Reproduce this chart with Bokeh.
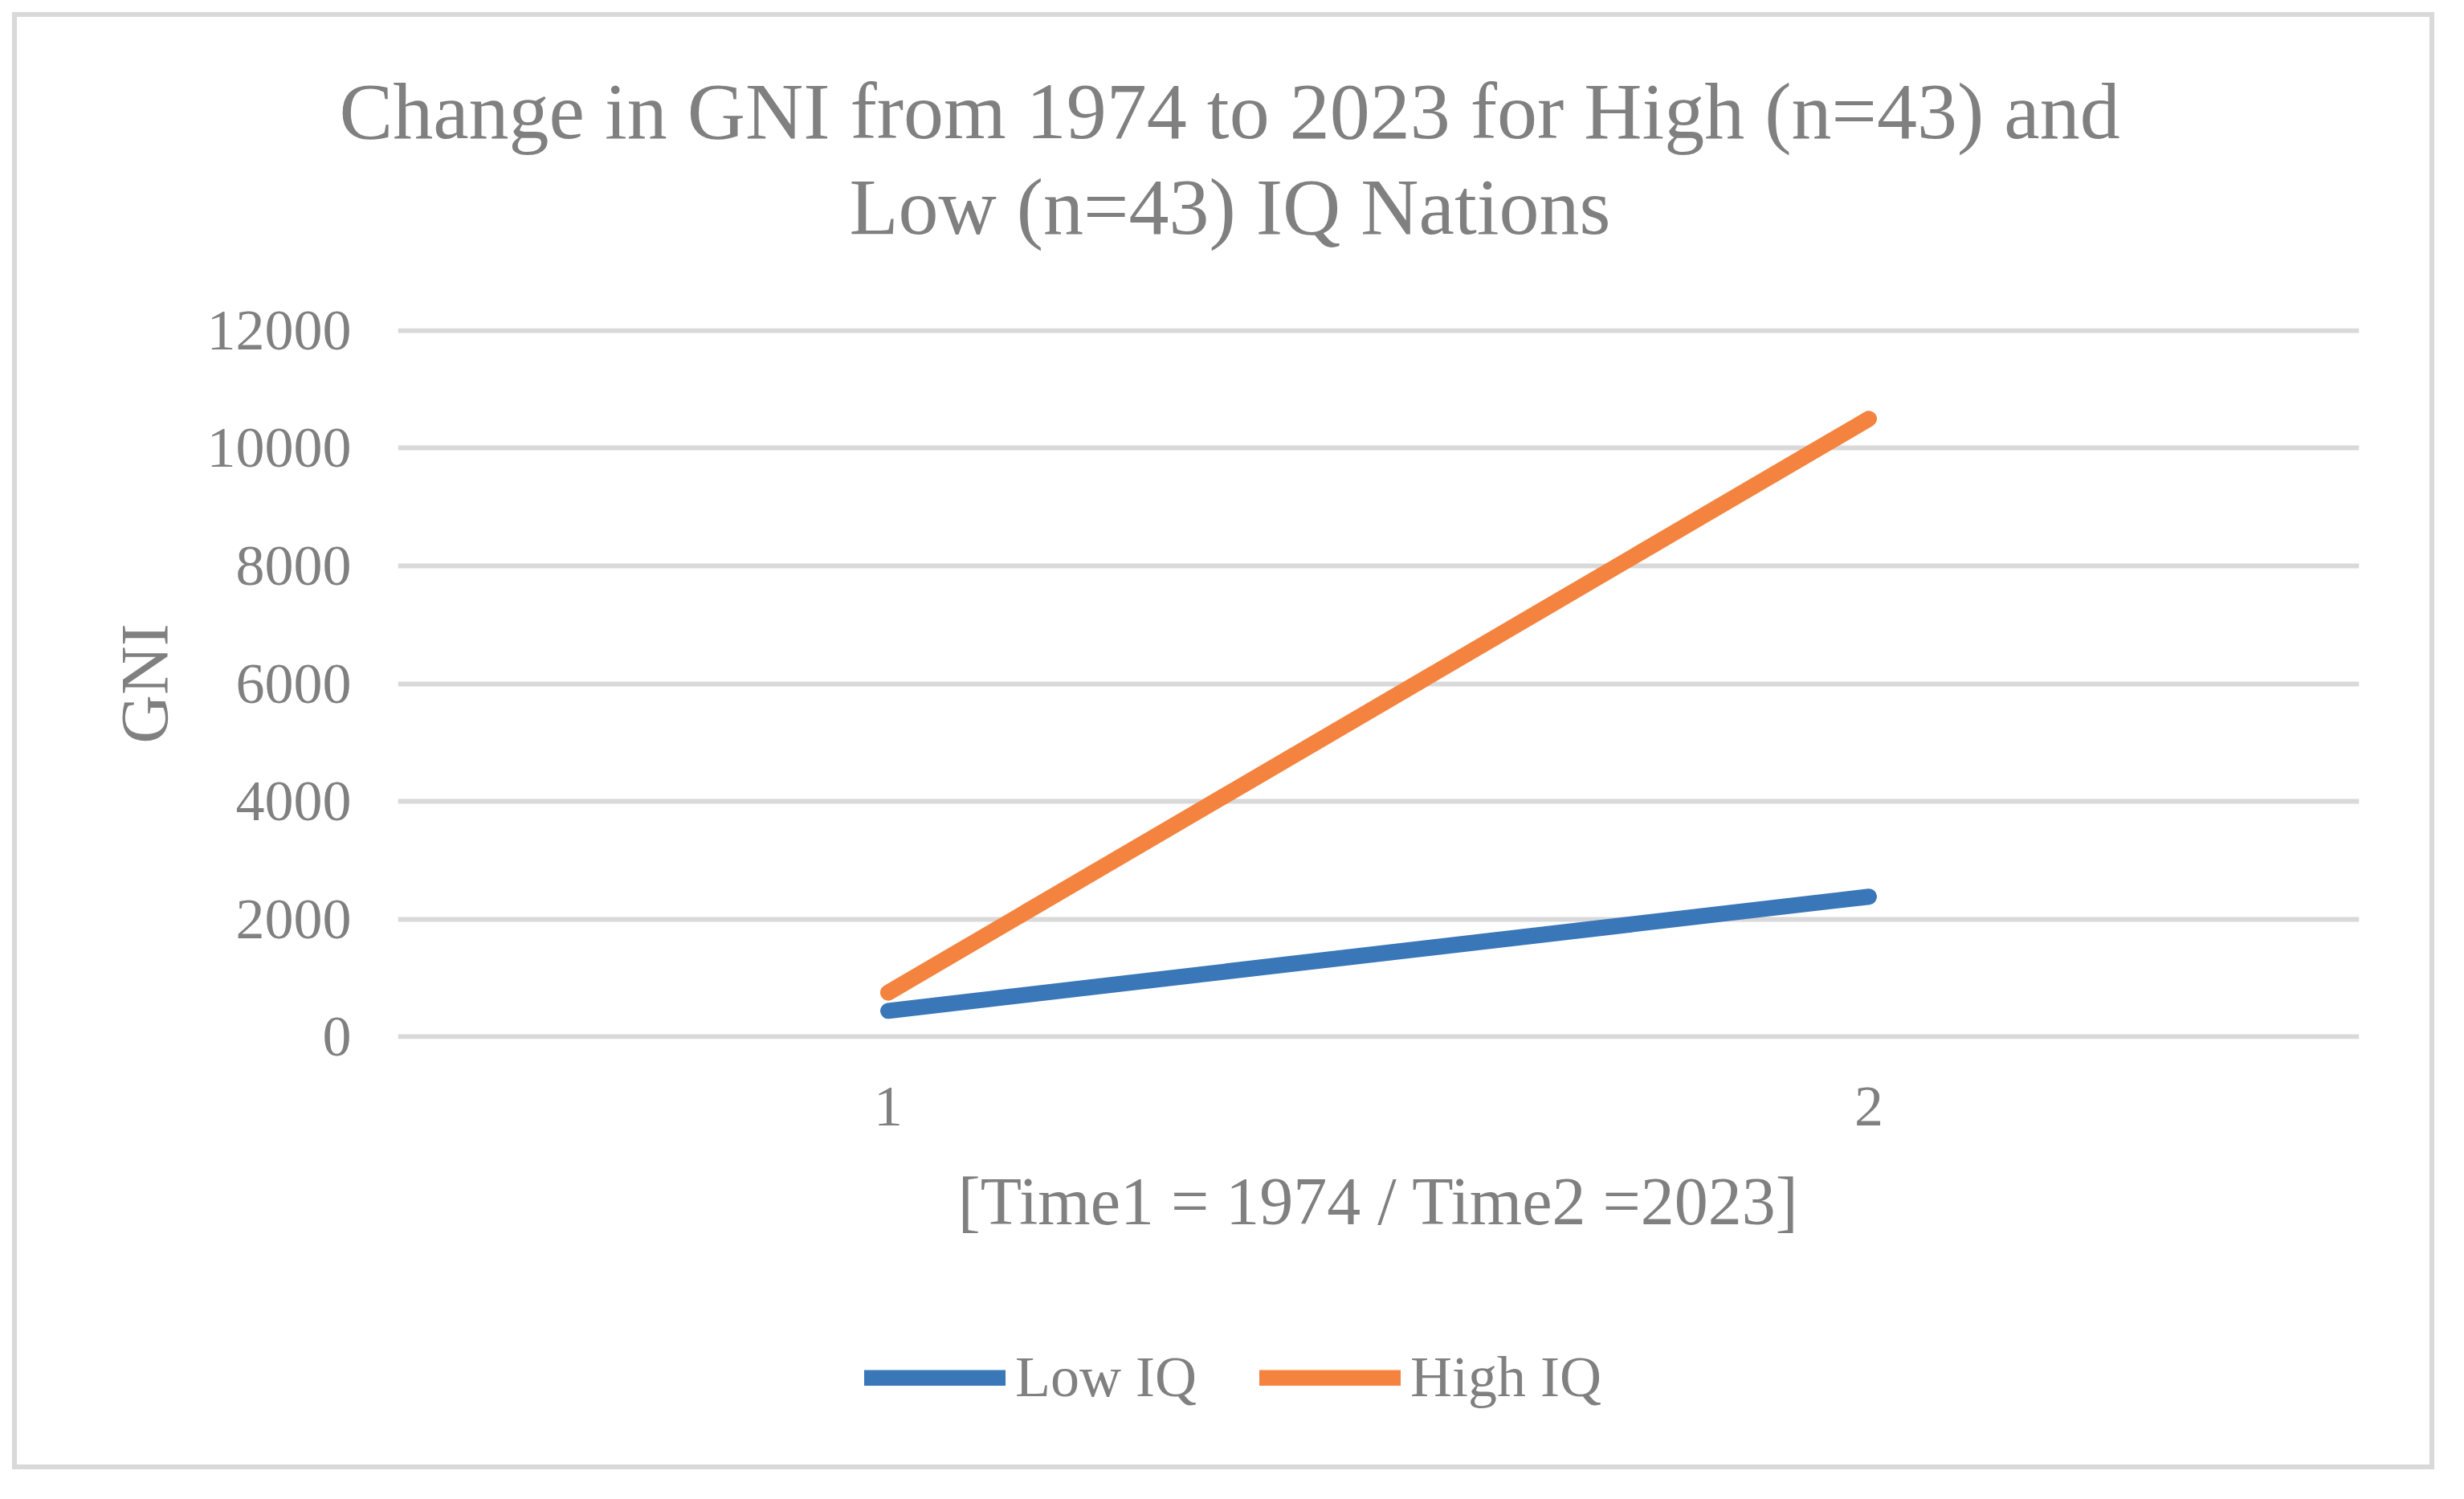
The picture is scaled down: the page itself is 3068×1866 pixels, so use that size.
from bokeh.plotting import figure
from bokeh.layouts import column
from bokeh.models import (ColumnDataSource, FactorRange, Range1d, FixedTicker,
                          Legend, LegendItem, Title)
from bokeh.embed import file_html
from bokeh.resources import INLINE

# data
times = ["1", "2"]
low_iq = [440, 2380]
high_iq = [750, 10500]
y_ticks = [0, 2000, 4000, 6000, 8000, 10000, 12000]
series_names = ["Low IQ", "High IQ"]
series_colors = ["#3A77B9", "#F4833F"]

FONT = "Liberation Serif"
TEXT = "#808080"
GRID = "#D9D9D9"

W = 3004
H_MAIN, H_LEG = 1600, 202

p = figure(width=W, height=H_MAIN, x_range=FactorRange(*times), y_range=Range1d(-40, 12040),
           output_backend="svg", toolbar_location=None, tools="",
           min_border_left=474, min_border_right=88, min_border_top=387, min_border_bottom=328)
p.background_fill_color = "white"
p.border_fill_color = "white"
p.outline_line_color = None

# title: two lines, each centred on the whole chart
def title_line(text, offset, standoff, size="100px"):
    return Title(text=text, align="left", offset=offset, standoff=standoff,
                 text_font=FONT, text_font_size=size, text_font_style="normal",
                 text_color=TEXT)

p.title = title_line("Change in GNI from 1974 to 2023 for High (n=43) and", -73, 12)
p.add_layout(title_line(" ", 0, 93, size="1px"), "above")
p.add_layout(title_line("Low (n=43) IQ Nations", 562, 0), "above")

source = ColumnDataSource(dict(t=times, low=low_iq, high=high_iq))
cols = ["low", "high"]
for col, color in zip(cols, series_colors):
    p.line(x="t", y=col, source=source, line_color=color, line_width=20,
           line_cap="round", line_join="round")

# axes
p.yaxis.ticker = FixedTicker(ticks=y_ticks)
p.yaxis.axis_label = "GNI"
p.xaxis.axis_label = "[Time1 = 1974 / Time2 =2023]"
for ax in (p.xaxis, p.yaxis):
    ax.axis_line_color = None
    ax.major_tick_line_color = None
    ax.minor_tick_line_color = None
    ax.major_tick_out = 0
    ax.major_tick_in = 0
    ax.major_label_text_font = FONT
    ax.major_label_text_font_size = "72px"
    ax.major_label_text_color = TEXT
    ax.axis_label_text_font = FONT
    ax.axis_label_text_font_size = "84px"
    ax.axis_label_text_font_style = "normal"
    ax.axis_label_text_color = TEXT
p.yaxis.major_label_standoff = 58
p.yaxis.axis_label_standoff = 28
p.xaxis.major_label_standoff = 60
p.xaxis.axis_label_standoff = 45

p.xgrid.grid_line_color = None
p.ygrid.grid_line_color = GRID
p.ygrid.grid_line_width = 6

# legend strip under the chart; its series sit outside the strip's visible range
pl = figure(width=W, height=H_LEG, output_backend="svg", toolbar_location=None, tools="",
            x_range=FactorRange(*times), y_range=Range1d(50000, 60000),
            x_axis_type=None, y_axis_type=None, min_border=0)
pl.outline_line_color = None
pl.grid.grid_line_color = None
pl.background_fill_color = "white"
items = []
for name, col, color in zip(series_names, cols, series_colors):
    r = pl.line(x="t", y=col, source=source, line_color=color, line_width=20,
                line_cap="round")
    items.append(LegendItem(label=name, renderers=[r]))
legend = Legend(items=items, orientation="horizontal", location=(581, 67),
                glyph_width=176, glyph_height=20, label_standoff=12, spacing=78,
                padding=0, margin=0, border_line_color=None, background_fill_alpha=0,
                label_text_font=FONT, label_text_font_size="72px", label_text_color=TEXT)
pl.add_layout(legend)

# chart border
layout = column(p, pl, spacing=0, margin=(15, 15, 15, 15),
                styles={"border": "6px solid #D9D9D9"})

open("out.html", "w").write(file_html(layout, INLINE))
